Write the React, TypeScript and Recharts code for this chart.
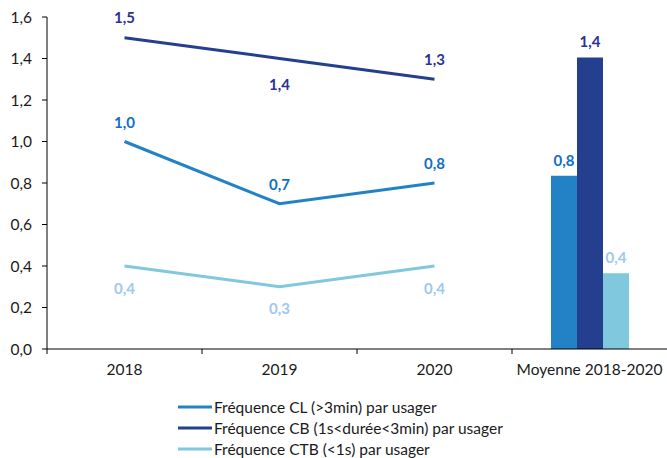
import React from 'react';
import { ComposedChart, Line, Bar, XAxis, YAxis, Legend, LabelList } from 'recharts';

const categories = ['2018', '2019', '2020', 'Moyenne 2018-2020'];
const clLine = [1.0, 0.7, 0.8, null];
const cbLine = [1.5, 1.4, 1.3, null];
const ctbLine = [0.4, 0.3, 0.4, null];
const clAvg = [null, null, null, 0.835];
const cbAvg = [null, null, null, 1.405];
const ctbAvg = [null, null, null, 0.365];
const yTicks = [0, 0.2, 0.4, 0.6, 0.8, 1.0, 1.2, 1.4, 1.6];
const seriesNames = [
  'Fréquence CL (>3min) par usager',
  'Fréquence CB (1s<durée<3min) par usager',
  'Fréquence CTB (<1s) par usager',
];

const data = categories.map((c, i) => ({
  cat: c,
  cl: clLine[i],
  cb: cbLine[i],
  ctb: ctbLine[i],
  clAvg: clAvg[i],
  cbAvg: cbAvg[i],
  ctbAvg: ctbAvg[i],
}));

const COL_CL = '#2382C6';
const COL_CB = '#243F8E';
const COL_CTB = '#7FC8DE';
const LBL_CL = '#0F6FC6';
const LBL_CB = '#2E3192';
const LBL_CTB = '#9DC8F0';
const FONT = 'Lato, "Open Sans", sans-serif';
const FS = 15.5;
const TICK_SIZE = 5;
const TICK_MARGIN = 10;

const fmt = (v: number) => v.toFixed(1).replace('.', ',');

const XTick = (props: any) => {
  const { x, y, payload } = props;
  const off = payload && typeof payload.offset === 'number' ? payload.offset : 0;
  const axisY = y - TICK_SIZE - TICK_MARGIN;
  return (
    <g>
      {off > 0 && (
        <line x1={x - off} y1={axisY} x2={x - off} y2={axisY + TICK_SIZE} stroke="#000" />
      )}
      <text x={x} y={y} dy="0.71em" textAnchor="middle" fill="#1a1a1a" fontSize={FS} fontFamily={FONT}>
        {payload.value}
      </text>
    </g>
  );
};

const lineLabel = (color: string, placement: number[]) => (props: any) => {
  const { x, y, value, index } = props;
  if (value === null || value === undefined) return null;
  const dy = placement[index] ?? -20;
  return (
    <text x={x} y={y + dy} textAnchor="middle" dominantBaseline="central" fill={color}
      fontFamily={FONT} fontSize={15} fontWeight="bold">
      {fmt(value)}
    </text>
  );
};

const barLabel = (color: string) => (props: any) => {
  const { x, y, width, value } = props;
  if (value === null || value === undefined) return null;
  return (
    <text x={x + width / 2} y={y - 16} textAnchor="middle" dominantBaseline="central" fill={color}
      fontFamily={FONT} fontSize={15} fontWeight="bold">
      {fmt(value)}
    </text>
  );
};

const legendColors = [COL_CL, COL_CB, COL_CTB];

const renderLegend = () => (
  <div style={{ fontFamily: FONT, fontSize: FS, color: '#1a1a1a' }}>
    {seriesNames.map((n, i) => (
      <div key={n} style={{ display: 'flex', alignItems: 'center', height: 21 }}>
        <svg width={34} height={6} style={{ marginRight: 2 }}>
          <line x1={0} y1={3} x2={34} y2={3} stroke={legendColors[i]} strokeWidth={3} />
        </svg>
        <span style={{ whiteSpace: 'nowrap' }}>{n}</span>
      </div>
    ))}
  </div>
);

export default function App() {
  return (
    <div style={{ position: 'absolute', left: 0, top: 0, background: '#fff' }}>
      <ComposedChart width={667} height={458} data={data}
        margin={{ top: 17, right: 0, left: 0, bottom: 9 }} barGap={0}>
        <XAxis dataKey="cat" height={30} axisLine={{ stroke: '#000' }} tickLine={false}
          tickSize={TICK_SIZE} tickMargin={TICK_MARGIN} interval={0} tick={<XTick />} />
        <YAxis domain={[0, 1.6]} ticks={yTicks} width={47} axisLine={{ stroke: '#000' }}
          tickLine={{ stroke: '#000' }} tickSize={5} tickMargin={10} tickFormatter={fmt}
          tick={{ fill: '#1a1a1a', fontSize: FS, fontFamily: FONT }} />
        <Legend verticalAlign="bottom" height={70} content={renderLegend}
          wrapperStyle={{ top: 396, left: 178, width: 340 }} />
        <Bar dataKey="clAvg" fill={COL_CL} barSize={26} isAnimationActive={false} legendType="none">
          <LabelList dataKey="clAvg" content={barLabel(LBL_CL)} />
        </Bar>
        <Bar dataKey="cbAvg" fill={COL_CB} barSize={26} isAnimationActive={false} legendType="none">
          <LabelList dataKey="cbAvg" content={barLabel(LBL_CB)} />
        </Bar>
        <Bar dataKey="ctbAvg" fill={COL_CTB} barSize={26} isAnimationActive={false} legendType="none">
          <LabelList dataKey="ctbAvg" content={barLabel(LBL_CTB)} />
        </Bar>
        <Line dataKey="cl" name={seriesNames[0]} stroke={COL_CL} strokeWidth={3} dot={false}
          isAnimationActive={false} connectNulls={false}>
          <LabelList dataKey="cl" content={lineLabel(LBL_CL, [-20, -20, -20])} />
        </Line>
        <Line dataKey="cb" name={seriesNames[1]} stroke={COL_CB} strokeWidth={3} dot={false}
          isAnimationActive={false}>
          <LabelList dataKey="cb" content={lineLabel(LBL_CB, [-21, 25, -20])} />
        </Line>
        <Line dataKey="ctb" name={seriesNames[2]} stroke={COL_CTB} strokeWidth={3} dot={false}
          isAnimationActive={false}>
          <LabelList dataKey="ctb" content={lineLabel(LBL_CTB, [22, 21, 22])} />
        </Line>
      </ComposedChart>
    </div>
  );
}
